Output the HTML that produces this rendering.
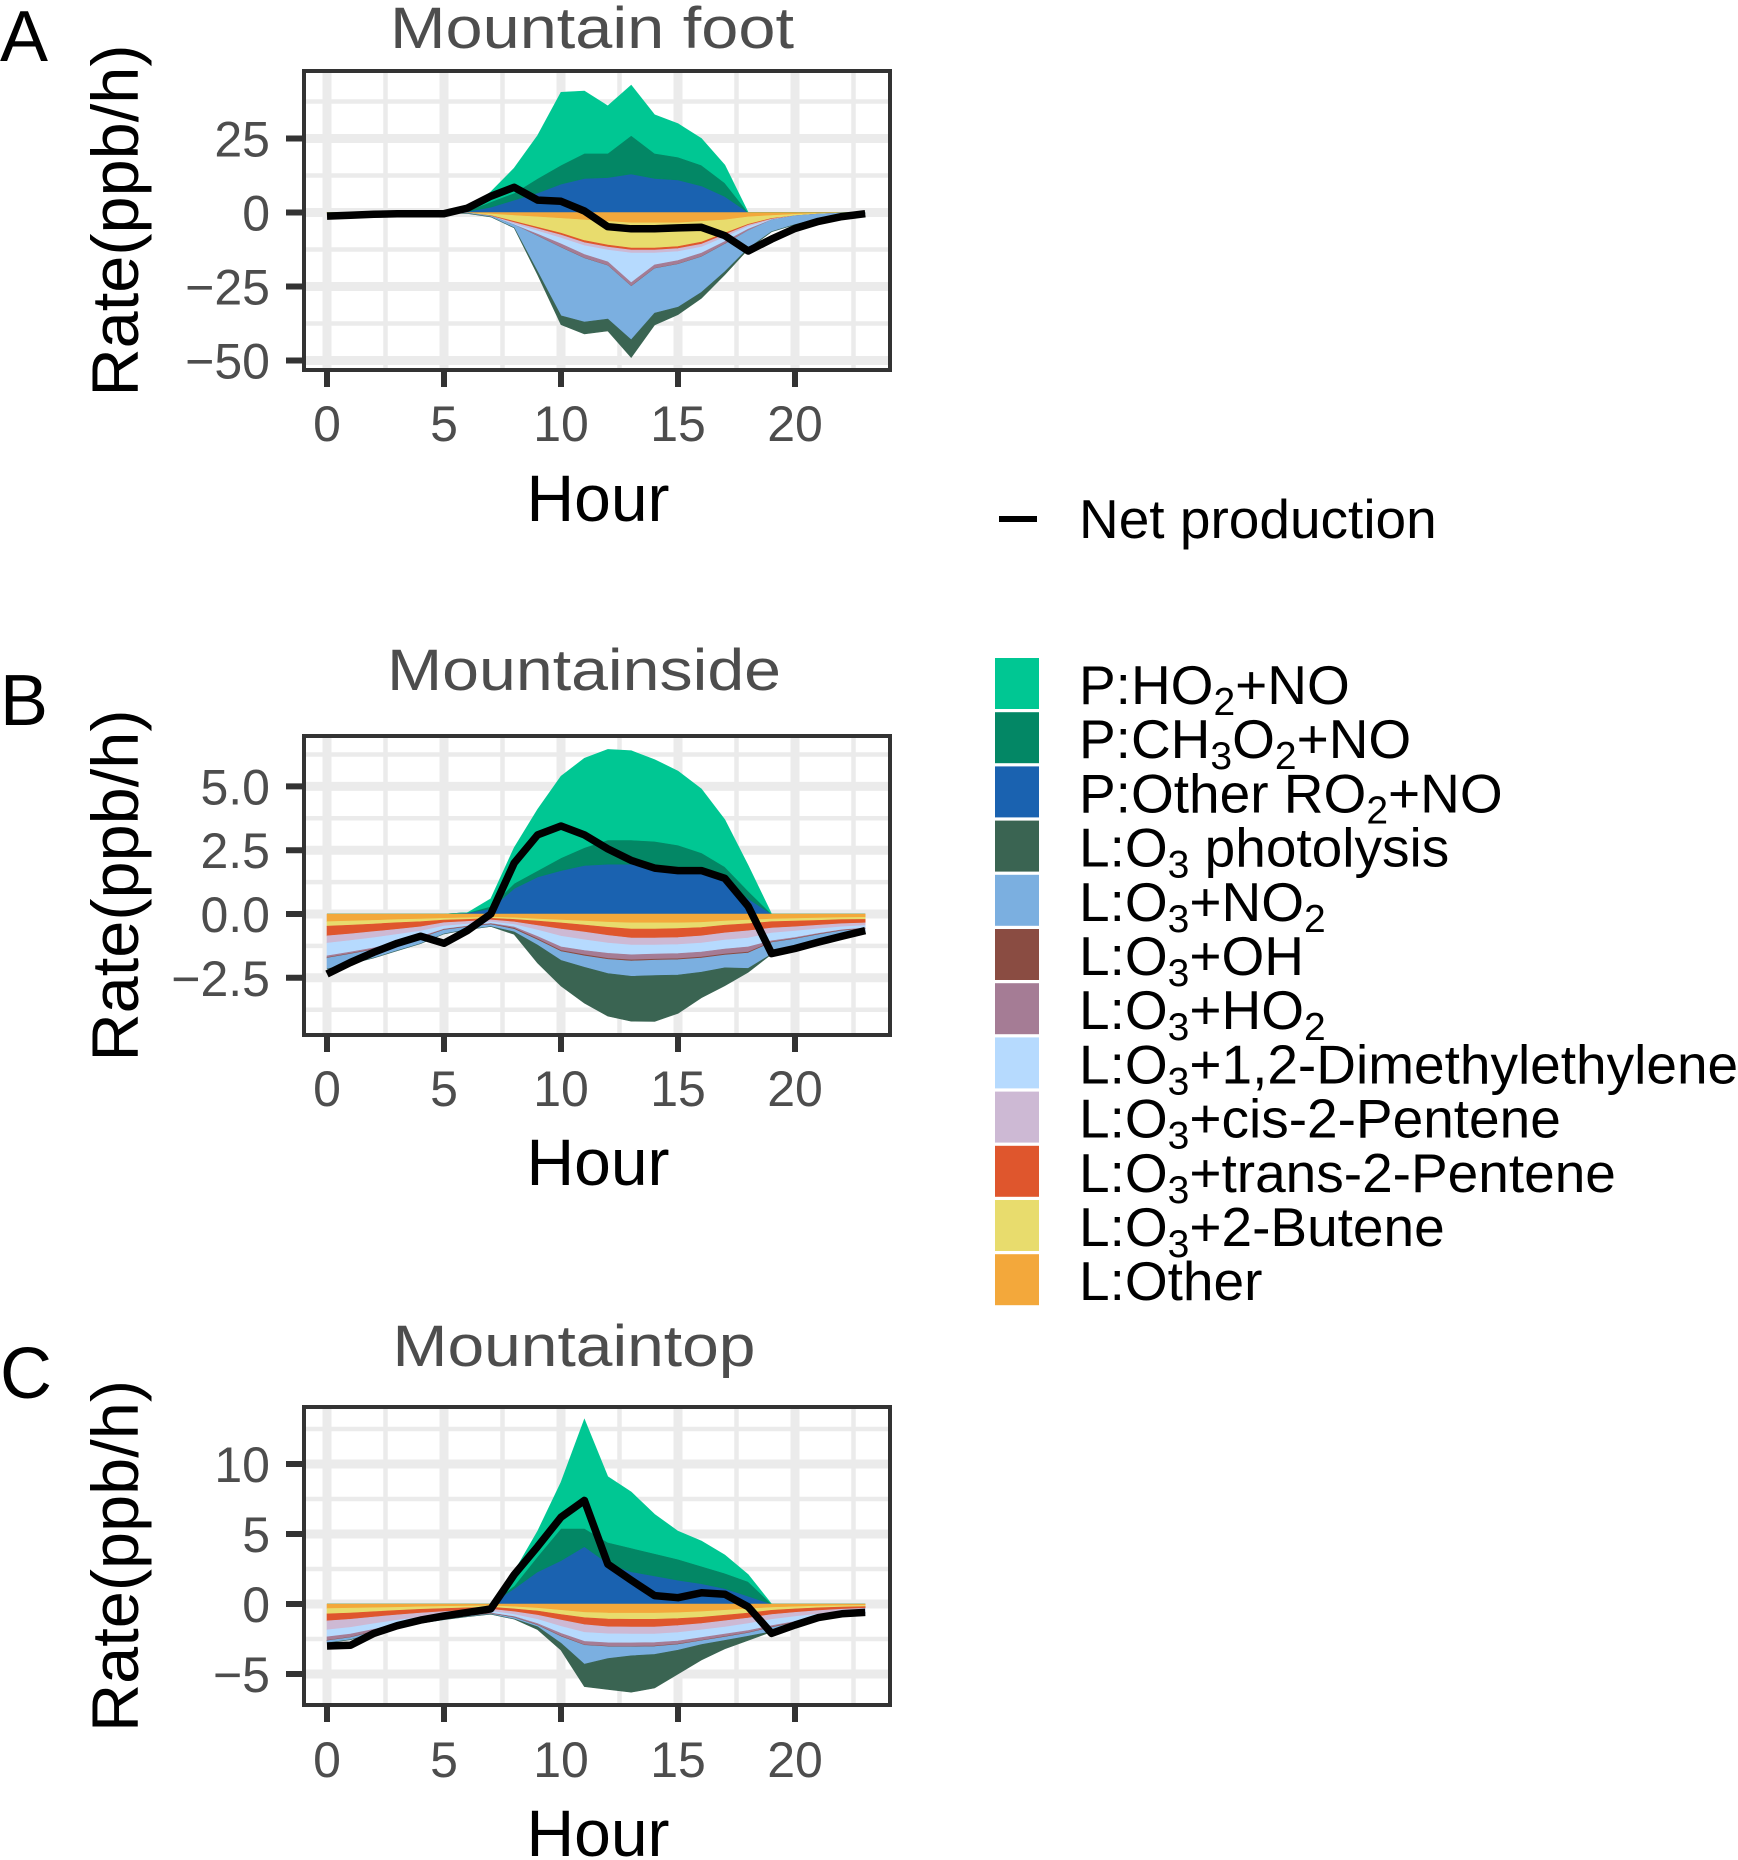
<!DOCTYPE html>
<html><head><meta charset="utf-8"><title>Ozone budget</title>
<style>html,body{margin:0;padding:0;background:#fff;}svg{display:block;font-family:"Liberation Sans",Arial,sans-serif;}</style></head>
<body>
<svg id="fig" width="1738" height="1860" viewBox="0 0 1738 1860" xmlns="http://www.w3.org/2000/svg"></svg>
<script>
const HOURS = [0,1,2,3,4,5,6,7,8,9,10,11,12,13,14,15,16,17,18,19,20,21,22,23];
const SERIES_NAMES = ['P:HO2+NO','P:CH3O2+NO','P:Other RO2+NO','L:O3 photolysis','L:O3+NO2','L:O3+OH','L:O3+HO2','L:O3+1,2-Dimethylethylene','L:O3+cis-2-Pentene','L:O3+trans-2-Pentene','L:O3+2-Butene','L:Other'];
const X_TICKS = [0,5,10,15,20];

// Panel A - Mountain foot
const A_P_HO2   = [0,0,0,0,0,0,0.3,3.4,8.4,14.5,24.6,21,16,17,13,11.3,9,6,0,0,0,0,0,0];
const A_P_CH3O2 = [0,0,0,0,0,0,0.2,1.8,2.4,4.9,6.4,8.5,8.2,13,8.5,7.7,7,4.6,0,0,0,0,0,0];
const A_P_RO2   = [0,0,0,0,0,0,0.3,1.8,4.2,6.6,9.6,11.5,11.8,13,11.5,11,9,5.4,0,0,0,0,0,0];
const A_L_PHOTO = [0,0,0,0,0,0,0,0,0,-1,-3,-4,-4,-6,-4,-2.5,-2,-1,-0.3,0,0,0,0,0];
const A_L_NO2   = [0,0,0,0,0,0,-0.1,-0.3,-1,-12,-23,-21.5,-18,-18,-15,-14.5,-12,-9.3,-6,-4,-3,-1.5,-0.8,-0.3];
const A_L_OH    = [0,0,0,0,0,0,0,0,0,-0.1,-0.1,-0.1,-0.1,-0.1,-0.1,-0.1,-0.1,-0.1,0,0,0,0,0,0];
const A_L_HO2   = [0,0,0,0,0,0,0,0,0,-0.6,-1.2,-1.2,-1.2,-1.2,-1.2,-1.2,-1.2,-0.8,-0.5,0,0,0,0,0];
const A_L_DIME  = [0,0,0,0,0,0,0,0,-0.3,-1,-2,-3,-4,-10,-4,-3,-2,-1.5,-0.8,0,0,0,0,0];
const A_L_CIS   = [0,0,0,0,0,0,0,0,-0.5,-0.8,-1,-1,-1,-1,-1,-1,-1,-0.8,-0.5,-0.3,0,0,0,0];
const A_L_TRANS = [0,0,0,0,0,0,0,-0.2,-0.4,-0.5,-0.6,-0.7,-0.7,-0.7,-0.7,-0.7,-0.7,-0.5,-0.3,-0.2,0,0,0,0];
const A_L_BUT   = [0,0,0,0,0,0,0,-0.5,-2,-3.5,-5,-7,-8,-8.5,-8.5,-8,-7,-4.5,-2.5,-1,-0.5,-0.2,0,0];
const A_L_OTHER = [-0.1,-0.1,-0.1,-0.1,-0.1,-0.1,-0.2,-0.5,-1,-1.5,-2,-2.5,-3,-3.5,-3.5,-3.5,-3,-2.5,-1.5,-1,-0.6,-0.3,-0.2,-0.1];
const A_NET     = [-1.2,-0.9,-0.6,-0.4,-0.4,-0.4,1.5,5.5,8.5,4.2,3.8,0.5,-4.8,-5.5,-5.5,-5.2,-5,-7.8,-13,-9,-5.4,-3,-1.4,-0.4];
const A_Y_TICKS = [25,0,-25,-50];
const A_Y_MINOR = [37.5,12.5,-12.5,-37.5];

// Panel B - Mountainside
const B_P_HO2   = [0,0,0,0,0,0,0,0.3,1.4,2.4,3.2,3.5,3.55,3.5,3.2,2.9,2.5,1.85,1.0,0,0,0,0,0];
const B_P_CH3O2 = [0,0,0,0,0,0,0,0.1,0.2,0.25,0.5,0.7,0.95,0.95,0.95,0.9,0.75,0.55,0.3,0,0,0,0,0];
const B_P_RO2   = [0,0,0,0,0,0,0.05,0.2,1.0,1.45,1.7,1.9,1.95,1.95,1.9,1.8,1.65,1.3,0.6,0,0,0,0,0];
const B_L_PHOTO = [0,0,0,0,0,0,0,0,-0.1,-0.7,-1.0,-1.4,-1.67,-1.76,-1.8,-1.5,-1.0,-0.7,-0.15,0,0,0,0,0];
const B_L_NO2   = [-0.42,-0.38,-0.32,-0.28,-0.22,-0.15,-0.1,-0.08,-0.1,-0.2,-0.35,-0.45,-0.55,-0.6,-0.6,-0.6,-0.55,-0.5,-0.6,-0.45,-0.35,-0.25,-0.15,-0.1];
const B_L_OH    = [-0.02,-0.02,-0.02,-0.02,-0.02,-0.02,-0.02,-0.02,-0.04,-0.04,-0.04,-0.04,-0.04,-0.04,-0.04,-0.04,-0.04,-0.04,-0.04,-0.02,-0.02,-0.02,-0.02,-0.02];
const B_L_HO2   = [-0.07,-0.06,-0.05,-0.04,-0.03,-0.02,-0.02,-0.02,-0.05,-0.1,-0.14,-0.17,-0.2,-0.2,-0.2,-0.2,-0.2,-0.2,-0.2,-0.05,-0.04,-0.03,-0.02,-0.02];
const B_L_DIME  = [-0.5,-0.45,-0.4,-0.3,-0.22,-0.12,-0.08,-0.06,-0.1,-0.25,-0.42,-0.42,-0.4,-0.38,-0.35,-0.35,-0.35,-0.35,-0.35,-0.3,-0.25,-0.18,-0.12,-0.1];
const B_L_CIS   = [-0.28,-0.26,-0.24,-0.2,-0.17,-0.13,-0.1,-0.08,-0.1,-0.18,-0.28,-0.3,-0.3,-0.28,-0.28,-0.28,-0.28,-0.28,-0.28,-0.2,-0.17,-0.14,-0.12,-0.1];
const B_L_TRANS = [-0.38,-0.34,-0.3,-0.26,-0.2,-0.1,-0.08,-0.06,-0.1,-0.17,-0.24,-0.28,-0.32,-0.35,-0.35,-0.35,-0.33,-0.3,-0.28,-0.25,-0.22,-0.19,-0.16,-0.14];
const B_L_BUT   = [-0.18,-0.16,-0.14,-0.12,-0.1,-0.07,-0.06,-0.05,-0.06,-0.08,-0.11,-0.15,-0.2,-0.24,-0.24,-0.22,-0.2,-0.16,-0.14,-0.1,-0.1,-0.09,-0.08,-0.08];
const B_L_OTHER = [-0.3,-0.28,-0.25,-0.22,-0.2,-0.17,-0.15,-0.12,-0.15,-0.2,-0.24,-0.28,-0.32,-0.35,-0.35,-0.35,-0.33,-0.28,-0.24,-0.2,-0.18,-0.16,-0.14,-0.13];
const B_NET     = [-2.35,-1.9,-1.5,-1.15,-0.87,-1.15,-0.65,0,2.0,3.1,3.45,3.1,2.55,2.1,1.8,1.7,1.7,1.4,0.3,-1.55,-1.35,-1.1,-0.87,-0.65];
const B_Y_TICKS = [5.0,2.5,0.0,-2.5];
const B_Y_LABELS = ['5.0','2.5','0.0','\u22122.5'];
const B_Y_MINOR = [6.25,3.75,1.25,-1.25,-3.75];

// Panel C - Mountaintop
const C_P_HO2   = [0,0,0,0,0,0,0,0,1.0,1.8,3.3,7.8,4.7,4.0,2.8,2.0,1.8,1.3,0.5,0,0,0,0,0];
const C_P_CH3O2 = [0,0,0,0,0,0,0,0,0.2,1.1,2.3,1.3,1.5,1.7,1.6,1.5,1.25,1.1,1.04,0,0,0,0,0];
const C_P_RO2   = [0,0,0,0,0,0,0,0,1.1,2.3,3.1,4.1,2.9,2.3,2.0,1.7,1.45,1.1,0.56,0,0,0,0,0];
const C_L_PHOTO = [0,0,0,0,0,0,0,0,0,-0.2,-0.5,-1.6,-2.2,-2.6,-2.4,-1.7,-1.1,-0.6,-0.3,0,0,0,0,0];
const C_L_NO2   = [-0.15,-0.15,-0.1,-0.08,-0.06,-0.05,-0.04,-0.03,-0.1,-0.1,-0.47,-1.35,-0.85,-0.64,-0.56,-0.41,-0.27,-0.24,-0.22,-0.3,-0.15,-0.1,-0.08,-0.06];
const C_L_OH    = [-0.03,-0.03,-0.03,-0.03,-0.03,-0.03,-0.03,-0.03,-0.03,-0.03,-0.03,-0.03,-0.03,-0.03,-0.03,-0.03,-0.03,-0.03,-0.03,-0.03,-0.03,-0.03,-0.03,-0.03];
const C_L_HO2   = [-0.25,-0.22,-0.15,-0.1,-0.08,-0.05,-0.04,-0.03,-0.05,-0.1,-0.2,-0.25,-0.25,-0.25,-0.25,-0.22,-0.2,-0.18,-0.15,-0.1,-0.06,-0.04,-0.03,-0.02];
const C_L_DIME  = [-0.5,-0.48,-0.4,-0.32,-0.26,-0.2,-0.15,-0.12,-0.15,-0.3,-0.5,-0.64,-0.64,-0.64,-0.62,-0.6,-0.55,-0.5,-0.5,-0.45,-0.35,-0.25,-0.18,-0.14];
const C_L_CIS   = [-0.64,-0.58,-0.48,-0.38,-0.3,-0.25,-0.2,-0.15,-0.2,-0.3,-0.45,-0.55,-0.5,-0.5,-0.5,-0.5,-0.45,-0.45,-0.4,-0.35,-0.3,-0.25,-0.2,-0.15];
const C_L_TRANS = [-0.5,-0.45,-0.38,-0.32,-0.26,-0.22,-0.18,-0.14,-0.2,-0.3,-0.4,-0.5,-0.55,-0.55,-0.55,-0.5,-0.45,-0.4,-0.35,-0.3,-0.25,-0.2,-0.15,-0.12];
const C_L_BUT   = [-0.38,-0.34,-0.28,-0.22,-0.18,-0.15,-0.12,-0.1,-0.15,-0.2,-0.3,-0.38,-0.43,-0.43,-0.43,-0.42,-0.4,-0.35,-0.3,-0.2,-0.15,-0.12,-0.1,-0.08];
const C_L_OTHER = [-0.33,-0.3,-0.27,-0.24,-0.2,-0.17,-0.15,-0.13,-0.2,-0.3,-0.45,-0.6,-0.65,-0.66,-0.66,-0.62,-0.55,-0.45,-0.35,-0.25,-0.2,-0.15,-0.12,-0.1];
const C_NET     = [-3.0,-2.95,-2.1,-1.55,-1.15,-0.85,-0.6,-0.35,2.1,4.1,6.2,7.4,2.85,1.7,0.6,0.45,0.8,0.7,-0.2,-2.1,-1.5,-0.97,-0.7,-0.6];
const C_Y_TICKS = [10,5,0,-5];
const C_Y_MINOR = [12.5,7.5,2.5,-2.5,-7.5];

const COLORS = {'P:HO2+NO':'#00C793','P:CH3O2+NO':'#038765','P:Other RO2+NO':'#1A62B0','L:O3 photolysis':'#3A6452','L:O3+NO2':'#7BAFE0','L:O3+OH':'#8A4C42','L:O3+HO2':'#A57C95','L:O3+1,2-Dimethylethylene':'#B6DAFE','L:O3+cis-2-Pentene':'#CDB9D4','L:O3+trans-2-Pentene':'#DF562D','L:O3+2-Butene':'#E8DC6D','L:Other':'#F3A83B'};

const NS='http://www.w3.org/2000/svg';
const svg=document.getElementById('fig');
function mk(tag,attrs,parent){const e=document.createElementNS(NS,tag);for(const k in attrs)e.setAttribute(k,attrs[k]);(parent||svg).appendChild(e);return e;}

const PANELS=[
 {key:'a',letter:'A',title:'Mountain foot',titleX:592,titleY:48,titleLen:404,letterY:61,
  box:[304,71,890,370],zeroY:212.5,unitPx:74/25,yTicks:A_Y_TICKS,yLabels:['25','0','\u221225','\u221250'],yMinor:A_Y_MINOR,
  xLabY:441,hourY:521,
  pos:[['P:Other RO2+NO',A_P_RO2],['P:CH3O2+NO',A_P_CH3O2],['P:HO2+NO',A_P_HO2]],
  neg:[['L:Other',A_L_OTHER],['L:O3+2-Butene',A_L_BUT],['L:O3+trans-2-Pentene',A_L_TRANS],['L:O3+cis-2-Pentene',A_L_CIS],['L:O3+1,2-Dimethylethylene',A_L_DIME],['L:O3+HO2',A_L_HO2],['L:O3+OH',A_L_OH],['L:O3+NO2',A_L_NO2],['L:O3 photolysis',A_L_PHOTO]],
  net:A_NET},
 {key:'b',letter:'B',title:'Mountainside',titleX:584,titleY:690,titleLen:394,letterY:725,
  box:[304,736,890,1035],zeroY:914,unitPx:63.8/2.5,yTicks:B_Y_TICKS,yLabels:B_Y_LABELS,yMinor:B_Y_MINOR,
  xLabY:1106,hourY:1185,
  pos:[['P:Other RO2+NO',B_P_RO2],['P:CH3O2+NO',B_P_CH3O2],['P:HO2+NO',B_P_HO2]],
  neg:[['L:Other',B_L_OTHER],['L:O3+2-Butene',B_L_BUT],['L:O3+trans-2-Pentene',B_L_TRANS],['L:O3+cis-2-Pentene',B_L_CIS],['L:O3+1,2-Dimethylethylene',B_L_DIME],['L:O3+HO2',B_L_HO2],['L:O3+OH',B_L_OH],['L:O3+NO2',B_L_NO2],['L:O3 photolysis',B_L_PHOTO]],
  net:B_NET},
 {key:'c',letter:'C',title:'Mountaintop',titleX:574,titleY:1366,titleLen:363,letterY:1398,
  box:[304,1407,890,1705],zeroY:1604,unitPx:70/5,yTicks:C_Y_TICKS,yLabels:['10','5','0','\u22125'],yMinor:C_Y_MINOR,
  xLabY:1777,hourY:1856,
  pos:[['P:Other RO2+NO',C_P_RO2],['P:CH3O2+NO',C_P_CH3O2],['P:HO2+NO',C_P_HO2]],
  neg:[['L:Other',C_L_OTHER],['L:O3+2-Butene',C_L_BUT],['L:O3+trans-2-Pentene',C_L_TRANS],['L:O3+cis-2-Pentene',C_L_CIS],['L:O3+1,2-Dimethylethylene',C_L_DIME],['L:O3+HO2',C_L_HO2],['L:O3+OH',C_L_OH],['L:O3+NO2',C_L_NO2],['L:O3 photolysis',C_L_PHOTO]],
  net:C_NET}
];

function xScale(h){return 327+h*23.4;}

PANELS.forEach(p=>{
  const [x0,y0,x1,y1]=p.box;
  const yS=v=>p.zeroY-v*p.unitPx;
  const g=mk('g',{});
  
  
  const lt=mk('text',{x:0,y:p.letterY,'font-size':72,fill:'#000'},g);lt.textContent=p.letter;
  
  
  const tt=mk('text',{x:p.titleX,y:p.titleY,'font-size':58,fill:'#4d4d4d','text-anchor':'middle',textLength:p.titleLen,lengthAdjust:'spacingAndGlyphs'},g);tt.textContent=p.title;
  
  
  const cy=(y0+y1)/2;
  const yt=mk('text',{x:0,y:0,'font-size':66,fill:'#000','text-anchor':'middle',transform:'translate(138,'+cy+') rotate(-90)',textLength:352,lengthAdjust:'spacingAndGlyphs'},g);yt.textContent='Rate(ppb/h)';
  
  
  const clipId='clip'+p.key;
  const cp=mk('clipPath',{id:clipId},g);mk('rect',{x:x0,y:y0,width:x1-x0,height:y1-y0},cp);
  const plot=mk('g',{'clip-path':'url(#'+clipId+')'},g);
  
  
  mk('rect',{x:x0,y:y0,width:x1-x0,height:y1-y0,fill:'#fff'},plot);
  p.yMinor.forEach(v=>{const l=mk('line',{x1:x0,x2:x1,y1:yS(v),y2:yS(v),stroke:'#ebebeb','stroke-width':4.5},plot);
    
    });
  [2.5,7.5,12.5,17.5,22.5].forEach(h=>{const l=mk('line',{x1:xScale(h),x2:xScale(h),y1:y0,y2:y1,stroke:'#ebebeb','stroke-width':4.5},plot);
    
    });
  p.yTicks.forEach(v=>{const l=mk('line',{x1:x0,x2:x1,y1:yS(v),y2:yS(v),stroke:'#ebebeb','stroke-width':9},plot);
    
    });
  X_TICKS.forEach(h=>{const l=mk('line',{x1:xScale(h),x2:xScale(h),y1:y0,y2:y1,stroke:'#ebebeb','stroke-width':9},plot);
    
    });
  function stack(list){
    let base=HOURS.map(()=>0);
    list.forEach(([name,vals])=>{
      const top=base.map((b,i)=>b+vals[i]);
      let d='M'+HOURS.map((h,i)=>xScale(h).toFixed(1)+','+yS(top[i]).toFixed(1)).join('L');
      for(let i=HOURS.length-1;i>=0;i--)d+='L'+xScale(HOURS[i]).toFixed(1)+','+yS(base[i]).toFixed(1);
      d+='Z';
      const a=mk('path',{d:d,fill:COLORS[name],stroke:COLORS[name],'stroke-width':0.6},plot);
      
      
      base=top;
    });
  }
  stack(p.pos);stack(p.neg);
  const nl=mk('polyline',{points:HOURS.map((h,i)=>xScale(h).toFixed(1)+','+yS(p.net[i]).toFixed(1)).join(' '),fill:'none',stroke:'#000','stroke-width':7.5,'stroke-linejoin':'round'},plot);
  
  
  const br=mk('rect',{x:x0,y:y0,width:x1-x0,height:y1-y0,fill:'none',stroke:'#333','stroke-width':4},g);
  
  
  p.yTicks.forEach((v,i)=>{
    const t=mk('line',{x1:286,x2:x0,y1:yS(v),y2:yS(v),stroke:'#333','stroke-width':6},g);
    
    
    const lb=mk('text',{x:270,y:yS(v)+18,'font-size':50,fill:'#4d4d4d','text-anchor':'end'},g);lb.textContent=p.yLabels[i];
    
    
  });
  X_TICKS.forEach(h=>{
    const t=mk('line',{x1:xScale(h),x2:xScale(h),y1:y1,y2:y1+17,stroke:'#333','stroke-width':6},g);
    
    
    const lb=mk('text',{x:xScale(h),y:p.xLabY,'font-size':50,fill:'#4d4d4d','text-anchor':'middle'},g);lb.textContent=String(h);
    
    
  });
  const ht=mk('text',{x:598,y:p.hourY,'font-size':66,fill:'#000','text-anchor':'middle'},g);ht.textContent='Hour';
  
  
});

const leg=mk('g',{});


const nlk=mk('line',{x1:999,x2:1037,y1:519,y2:519,stroke:'#000','stroke-width':6},leg);


const nlt=mk('text',{x:1079,y:538,'font-size':55,fill:'#000'},leg);nlt.textContent='Net production';


const LEGEND_PARTS=[
 [['P:HO'],['2',1],['+NO']],
 [['P:CH'],['3',1],['O'],['2',1],['+NO']],
 [['P:Other RO'],['2',1],['+NO']],
 [['L:O'],['3',1],[' photolysis']],
 [['L:O'],['3',1],['+NO'],['2',1]],
 [['L:O'],['3',1],['+OH']],
 [['L:O'],['3',1],['+HO'],['2',1]],
 [['L:O'],['3',1],['+1,2-Dimethylethylene']],
 [['L:O'],['3',1],['+cis-2-Pentene']],
 [['L:O'],['3',1],['+trans-2-Pentene']],
 [['L:O'],['3',1],['+2-Butene']],
 [['L:Other']]
];
SERIES_NAMES.forEach((name,i)=>{
  const y=658+i*54.2;
  const k=mk('rect',{x:995,y:y,width:44,height:51,fill:COLORS[name]},leg);
  
  
  const t=mk('text',{x:1079,y:704+i*54.2,'font-size':55,fill:'#000'},leg);
  
  
  let shifted=false;
  LEGEND_PARTS[i].forEach(([s,sub])=>{
    const ts=mk('tspan',{},t);
    if(sub){ts.setAttribute('font-size','39');ts.setAttribute('dy','11');shifted=true;}
    else if(shifted){ts.setAttribute('dy','-11');shifted=false;}
    ts.textContent=s;
  });
});
</script>
</body></html>
